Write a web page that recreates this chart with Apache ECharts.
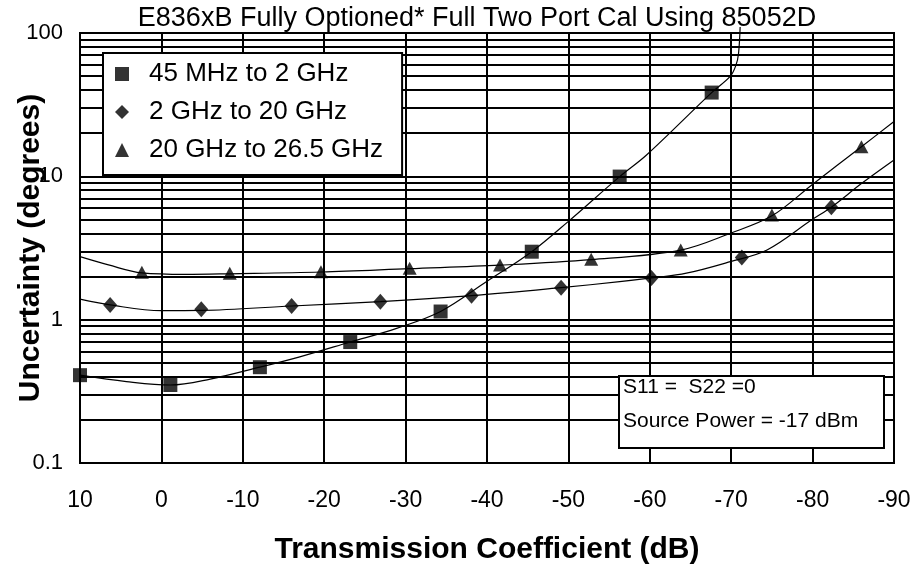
<!DOCTYPE html>
<html>
<head>
<meta charset="utf-8">
<script src="https://cdn.jsdelivr.net/npm/echarts@6/dist/echarts.min.js"></script>
<style>
html,body{margin:0;padding:0;background:#fff;}
#chart{width:912px;height:565px;}
</style>
</head>
<body>
<div id="chart"></div>
<script>
// ---- data ----
const titleText = 'E836xB Fully Optioned* Full Two Port Cal Using 85052D';
const xName = 'Transmission Coefficient (dB)';
const yName = 'Uncertainty (degrees)';
const seriesNames = ['45 MHz to 2 GHz', '2 GHz to 20 GHz', '20 GHz to 26.5 GHz'];
const noteLines = ['S11 =  S22 =0', 'Source Power = -17 dBm'];

// x: transmission coefficient (dB), y: uncertainty (degrees)
const sqCurve = [[10,0.41],[4.3,0.37],[-1.1,0.35],[-6,0.385],[-12.1,0.466],[-17,0.55],[-23.2,0.698],[-28.9,0.87],[-34.3,1.14],[-40,1.85],[-45.5,2.98],[-50,4.85],[-56.3,9.96],[-59.6,14.1],[-67.6,38.4],[-69.9,50],[-70.6,60],[-70.9,72],[-71.1,110]];
const sqMarks = [[10,0.41],[-1.1,0.35],[-12.1,0.466],[-23.2,0.698],[-34.3,1.14],[-45.5,2.98],[-56.3,9.96],[-67.6,38.4]];

const dmCurve = [[10,1.39],[6.3,1.267],[0,1.155],[-4.9,1.16],[-16,1.246],[-26.9,1.335],[-38.1,1.471],[-49.1,1.673],[-56.3,1.84],[-60.2,1.954],[-64.5,2.11],[-69.9,2.54],[-74.4,3.06],[-79.9,4.97],[-82.3,6.09],[-86,8.9],[-90,13.0]];
const dmMarks = [[6.3,1.267],[-4.9,1.182],[-16,1.246],[-26.9,1.335],[-38.1,1.471],[-49.1,1.673],[-60.2,1.954],[-71.3,2.72],[-82.3,6.09]];

const trCurve = [[10,2.75],[6.5,2.41],[2.4,2.12],[-3,2.07],[-8.4,2.09],[-19.6,2.15],[-30.5,2.27],[-41.6,2.40],[-52.8,2.62],[-63.8,3.06],[-69.9,4.01],[-75,5.3],[-79.9,8.71],[-86,16.1],[-90,24.1]];
const trMarks = [[2.4,2.14],[-8.4,2.11],[-19.6,2.16],[-30.5,2.28],[-41.6,2.41],[-52.8,2.64],[-63.8,3.06],[-75,5.38],[-86,16.1]];

// log-scale minor grid values
const minorGrid = [0.2,0.3,0.4,0.5,0.6,0.7,0.8,0.9,2,3,4,5,6,7,8,9,20,30,40,50,60,70,80,90];

const FONT = '"Liberation Sans", Arial, Helvetica, sans-serif';
const chart = echarts.init(document.getElementById('chart'), null, {renderer:'canvas'});

function curveSeries(name, data, extra) {
  return Object.assign({
    name: name, type: 'line', data: data, smooth: 0.35, showSymbol: false, symbol: 'none',
    lineStyle: {color:'#000', width: 1.2}, silent: true, animation: false, z: 3
  }, extra || {});
}
function markSeries(name, data, symbol, size) {
  return {
    name: name, type: 'scatter', data: data, symbol: symbol, symbolSize: size,
    itemStyle: {color:'#000'}, silent: true, animation: false, z: 4
  };
}

chart.setOption({
  animation: false,
  backgroundColor: '#fff',
  title: {
    text: titleText, left: 477, top: 5, textAlign: 'center', padding: 0,
    textStyle: {fontFamily: FONT, fontSize: 27, fontWeight: 'normal', color: '#000'}
  },
  grid: {left: 80, right: 18, top: 33, bottom: 102, containLabel: false, outerBoundsMode: 'none',
         show: true, borderColor: '#000', borderWidth: 2, backgroundColor: '#fff'},
  legend: {
    z: 50, zlevel: 0,
    data: seriesNames, orient: 'vertical', left: 103, top: 53,
    backgroundColor: '#ffffff', borderColor: '#000', borderWidth: 2,
    padding: [8, 19, 12, 12], itemWidth: 14, itemHeight: 14, itemGap: 12,
    selectedMode: false,
    textStyle: {fontFamily: FONT, fontSize: 26, color: '#000', lineHeight: 24, padding: [0, 0, 0, 15]}
  },
  xAxis: {
    type: 'value', inverse: true, min: -90, max: 10, interval: 10,
    name: xName, nameLocation: 'middle', nameGap: 72, nameMoveOverlap: false,
    nameTextStyle: {fontFamily: FONT, fontSize: 30, fontWeight: 'bold', color: '#000'},
    axisLine: {show: true, lineStyle: {color: '#000', width: 2}},
    axisTick: {show: false},
    axisLabel: {fontFamily: FONT, fontSize: 23, color: '#000', margin: 26},
    splitLine: {show: true, lineStyle: {color: '#000', width: 2}}
  },
  yAxis: {
    type: 'log', logBase: 10, min: 0.1, max: 100,
    name: yName, nameLocation: 'middle', nameGap: 34, nameMoveOverlap: false,
    nameTextStyle: {fontFamily: FONT, fontSize: 30, fontWeight: 'bold', color: '#000'},
    axisLine: {show: true, lineStyle: {color: '#000', width: 2}},
    axisTick: {show: false},
    axisLabel: {fontFamily: FONT, fontSize: 22, color: '#000', margin: 17,
      formatter: v => String(Math.round(v * 10) / 10)},
    splitLine: {show: true, lineStyle: {color: '#000', width: 2}}
  },
  series: [
    curveSeries('c1', sqCurve, {
      clip: false,
      markLine: {
        silent: true, symbol: ['none','none'], animation: false,
        label: {show: false},
        lineStyle: {color: '#000', width: 2, type: 'solid'},
        emphasis: {disabled: true},
        data: minorGrid.map(v => ({yAxis: v}))
      }
    }),
    curveSeries('c2', dmCurve),
    curveSeries('c3', trCurve),
    markSeries(seriesNames[0], sqMarks, 'rect', 14),
    markSeries(seriesNames[1], dmMarks, 'diamond', [14, 16]),
    markSeries(seriesNames[2], trMarks, 'triangle', [14, 13])
  ],
  graphic: [
    {type: 'rect', left: 618, top: 375, z: 100,
     shape: {width: 265, height: 72}, style: {fill: '#fff', stroke: '#000', lineWidth: 2}},
    {type: 'text', left: 623, top: 377, z: 101,
     style: {text: noteLines[0], font: '21px ' + FONT, fill: '#000'}},
    {type: 'text', left: 623, top: 411, z: 101,
     style: {text: noteLines[1], font: '21px ' + FONT, fill: '#000'}}
  ]
});
</script>
</body>
</html>
